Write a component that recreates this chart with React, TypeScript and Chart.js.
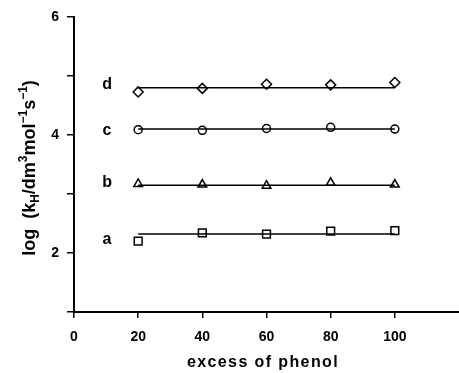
import React, { useEffect, useRef } from "react";
import { Chart, registerables } from "chart.js";

Chart.register(...registerables);

const xValues = [20, 40, 60, 80, 100];
const seriesNames = ["a", "b", "c", "d"];
const seriesA = [2.2, 2.34, 2.32, 2.37, 2.38];
const seriesB = [3.17, 3.16, 3.14, 3.19, 3.16];
const seriesC = [4.09, 4.08, 4.11, 4.13, 4.1];
const seriesD = [4.73, 4.79, 4.86, 4.85, 4.89];
const fitValues = [2.32, 3.15, 4.1, 4.8];
const nameLevels = [2.22, 3.2, 4.08, 4.85];
const nameX = 10.3;
const markerStyles = ["rect", "triangle", "circle", "rectRot"];
const markerRadii = [5.5, 5, 4, 5];
const yTickLabels = [2, 4, 6];
const xTitle = "excess of phenol";

const FONT = "'Liberation Sans', Arial, Helvetica, sans-serif";

export default function App() {
  const ref = useRef<HTMLCanvasElement | null>(null);
  useEffect(() => {
    const canvas = ref.current;
    if (!canvas) return;
    const allSeries = [seriesA, seriesB, seriesC, seriesD];
    const datasets: any[] = [];
    allSeries.forEach((vals, i) => {
      datasets.push({
        label: "fit " + seriesNames[i],
        data: [
          { x: xValues[0], y: fitValues[i] },
          { x: xValues[xValues.length - 1], y: fitValues[i] },
        ],
        showLine: true,
        borderColor: "#000",
        borderWidth: 1.5,
        pointRadius: 0,
        fill: false,
      });
      datasets.push({
        label: seriesNames[i],
        data: xValues.map((x, j) => ({ x, y: vals[j] })),
        showLine: false,
        pointStyle: markerStyles[i],
        pointRadius: markerRadii[i],
        pointBorderColor: "#000",
        pointBackgroundColor: "#fff",
        pointBorderWidth: 1.5,
      });
    });

    const labelPlugin = {
      id: "labels",
      afterDraw(chart: any) {
        const ctx = chart.ctx;
        const xs = chart.scales.x;
        const ys = chart.scales.y;
        ctx.save();
        ctx.fillStyle = "#000";
        // series labels
        ctx.font = `bold 16px ${FONT}`;
        ctx.textAlign = "center";
        ctx.textBaseline = "middle";
        seriesNames.forEach((n, i) => {
          ctx.fillText(n, xs.getPixelForValue(nameX), ys.getPixelForValue(nameLevels[i]));
        });
        // x title
        ctx.font = `bold 16px ${FONT}`;
        (ctx as any).letterSpacing = "1.4px";
        ctx.textAlign = "center";
        ctx.textBaseline = "alphabetic";
        ctx.fillText(xTitle, 263, 367);
        (ctx as any).letterSpacing = "0px";
        // y title
        const parts: [string, string][] = [
          ["log", "n"],
          [" ", "gap"],
          ["(k", "n"],
          ["H", "sub"],
          ["/dm", "n"],
          ["3", "sup"],
          ["mol", "n"],
          ["\u22121", "sup"],
          ["s", "n"],
          ["\u22121", "sup"],
          [")", "n"],
        ];
        const big = `bold 18px ${FONT}`;
        const small = `bold 12px ${FONT}`;
        const widthOf = (t: string, k: string) => {
          if (k === "gap") return 10;
          ctx.font = k === "n" ? big : small;
          return ctx.measureText(t).width;
        };
        let total = 0;
        parts.forEach(([t, k]) => {
          total += widthOf(t, k);
        });
        ctx.translate(29, 168);
        ctx.rotate(-Math.PI / 2);
        ctx.textAlign = "left";
        ctx.textBaseline = "alphabetic";
        let x = -total / 2;
        parts.forEach(([t, k]) => {
          const w = widthOf(t, k);
          if (k !== "gap") {
            ctx.font = k === "n" ? big : small;
            let dy = 6;
            if (k === "sup") dy = -2;
            if (k === "sub") dy = 10;
            ctx.fillText(t, x, dy);
          }
          x += w;
        });
        ctx.restore();
      },
    };

    const chart = new Chart(canvas, {
      type: "scatter",
      data: { datasets },
      plugins: [labelPlugin],
      options: {
        animation: false,
        responsive: false,
        maintainAspectRatio: false,
        layout: { padding: { top: 17, right: 0, left: 0, bottom: 0 } },
        plugins: { legend: { display: false }, tooltip: { enabled: false }, title: { display: false } },
        scales: {
          x: {
            type: "linear",
            min: 0,
            max: 120,
            afterFit: (s: any) => {
              s.height = 61;
              s.paddingRight = 0;
              s.paddingLeft = 0;
            },
            ticks: {
              stepSize: 20,
              color: "#000",
              font: { family: FONT, size: 14, weight: "bold" },
              padding: 11,
              maxRotation: 0,
              callback: (v: any) => (v === 120 ? null : String(v)),
            },
            grid: {
              display: true,
              drawOnChartArea: false,
              drawTicks: true,
              tickLength: 6,
              color: "#000",
              lineWidth: 1.5,
            },
            border: { display: true, color: "#000", width: 2 },
          },
          y: {
            type: "linear",
            min: 1,
            max: 6,
            afterFit: (s: any) => {
              s.width = 74;
            },
            ticks: {
              stepSize: 1,
              color: "#000",
              font: { family: FONT, size: 14, weight: "bold" },
              padding: 8,
              callback: (v: any) => (yTickLabels.includes(v) ? String(v) : ""),
            },
            grid: {
              display: true,
              drawOnChartArea: false,
              drawTicks: true,
              tickLength: 7,
              color: "#000",
              lineWidth: 1.5,
            },
            border: { display: true, color: "#000", width: 2 },
          },
        },
      },
    } as any);
    return () => chart.destroy();
  }, []);
  return (
    <div style={{ position: "absolute", left: 0, top: 0, width: 459, height: 373, overflow: "hidden", background: "#fff" }}>
      <canvas ref={ref} width={466} height={373} style={{ display: "block" }} />
    </div>
  );
}
